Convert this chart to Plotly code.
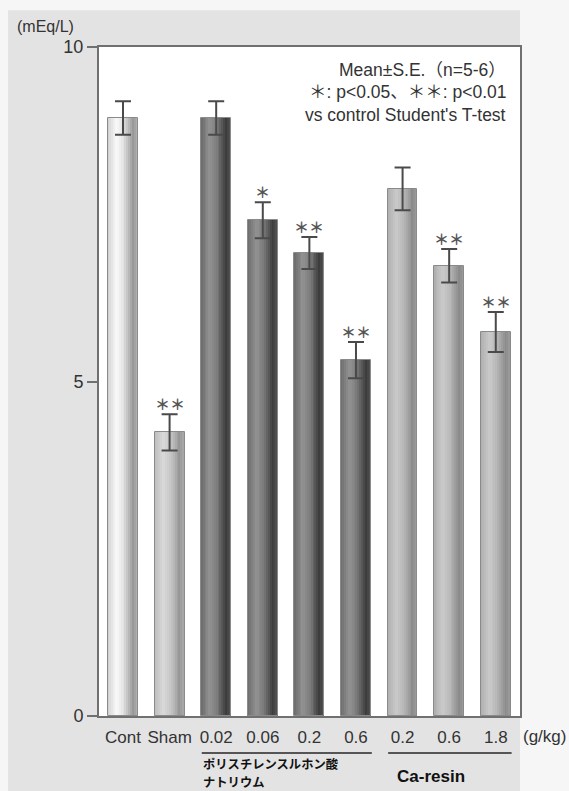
import plotly.graph_objects as go

# Serum potassium, mean ± S.E.
categories = ["Cont", "Sham", "0.02", "0.06", "0.2", "0.6", "0.2", "0.6", "1.8"]
means = [8.94, 4.24, 8.94, 7.41, 6.92, 5.32, 7.88, 6.73, 5.74]
sems = [0.25, 0.27, 0.25, 0.27, 0.24, 0.27, 0.32, 0.25, 0.30]
signif = ["", "＊＊", "", "＊", "＊＊", "＊＊", "", "＊＊", "＊＊"]
bar_group = ["cont", "sham", "ps", "ps", "ps", "ps", "ca", "ca", "ca"]
y_ticks = [0, 5, 10]

# light / dark shade for the cylinder shading of each group
shades = {
    "cont": ((250, 250, 250), (152, 152, 152)),
    "sham": ((218, 218, 218), (150, 150, 150)),
    "ps": ((146, 146, 146), (60, 60, 60)),
    "ca": ((202, 202, 202), (138, 138, 138)),
}
# lightness profile across the bar width (0 = left edge, 1 = right edge)
profile = [(0.0, 0.55), (0.3, 1.0), (0.55, 0.72), (0.85, 0.0), (1.0, 0.3)]


def lightness(t):
    for (t0, v0), (t1, v1) in zip(profile[:-1], profile[1:]):
        if t0 <= t <= t1:
            return v0 + (v1 - v0) * (t - t0) / (t1 - t0)
    return profile[-1][1]


def mix(light, dark, f):
    r, g, b = (int(round(d + (l - d) * f)) for l, d in zip(light, dark))
    return f"rgb({r},{g},{b})"


x = list(range(len(categories)))
bar_w = 0.64
n_strips = 16
strip_w = bar_w / n_strips

fig = go.Figure()

# shaded strips making up each bar
for k in range(n_strips):
    t = (k + 0.5) / n_strips
    f = lightness(t)
    colors = [mix(*shades[g], f) for g in bar_group]
    fig.add_trace(go.Bar(
        x=x, y=means, width=strip_w, offset=-bar_w / 2 + k * strip_w,
        marker=dict(color=colors, line=dict(width=0)),
        hoverinfo="skip", showlegend=False,
    ))

# outline + error bars
fig.add_trace(go.Bar(
    x=x, y=means, width=bar_w,
    marker=dict(color="rgba(0,0,0,0)", line=dict(color="#8a8a8a", width=1)),
    error_y=dict(type="data", array=sems, visible=True,
                 color="#4a4a4a", thickness=2, width=8),
    showlegend=False,
))

# significance marks above the error bars
for xi, m, s, mark in zip(x, means, sems, signif):
    if mark:
        fig.add_annotation(
            x=xi, y=m + s, xref="x", yref="y", text=f"<b>{mark}</b>", showarrow=False,
            yanchor="bottom", yshift=-2,
            font=dict(family="Noto Sans CJK JP", size=15, color="#555555"),
        )

# background panels
fig.add_shape(type="rect", xref="paper", yref="paper",
              x0=-0.216, x1=1.0, y0=-0.12, y1=1.055,
              fillcolor="#e3e3e3", line=dict(width=0), layer="below")
fig.add_shape(type="rect", xref="paper", yref="paper",
              x0=0, x1=1, y0=0, y1=1,
              fillcolor="white", line=dict(width=0), layer="below")

# group brackets under the dose labels
groups = [(2, 5), (6, 8)]
for first, last in groups:
    fig.add_shape(type="line", xref="x", yref="paper",
                  x0=first - 0.31, x1=last + 0.34, y0=-0.0553, y1=-0.0553,
                  line=dict(color="#555555", width=2))

text_font = "Liberation Sans, Arial, Noto Sans CJK JP"
ps_left = groups[0][0] - 0.31
ps_lines = ["ポリスチレンスルホン酸", "ナトリウム"]
for i, line in enumerate(ps_lines):
    fig.add_annotation(x=ps_left, y=-0.0717 - i * 0.0272, xref="x", yref="paper",
                       text=f"<b>{line}</b>", showarrow=False,
                       xanchor="left", yanchor="middle", borderpad=0,
                       font=dict(family="Noto Sans CJK JP", size=12.3, color="#111"))
fig.add_annotation(x=6.6, y=-0.091, xref="x", yref="paper",
                   text="<b>Ca-resin</b>", showarrow=False,
                   xanchor="center", yanchor="middle",
                   font=dict(family=text_font, size=17, color="#111"))

# unit labels
fig.add_annotation(x=-0.2, y=1.031, xref="paper", yref="paper",
                   text="(mEq/L)", showarrow=False, xanchor="left", yanchor="middle",
                   font=dict(family=text_font, size=16, color="#333"))
fig.add_annotation(x=1.003, y=-0.0299, xref="paper", yref="paper",
                   text="(g/kg)", showarrow=False, xanchor="left", yanchor="middle",
                   font=dict(family=text_font, size=17, color="#333"))

# statistics note
note_lines = ["Mean±S.E.（n=5-6）", "＊: p<0.05、＊＊: p<0.01", "vs control Student's T-test"]
for i, line in enumerate(note_lines):
    fig.add_annotation(x=0.9715, y=0.9656 - i * 0.0336, xref="paper", yref="paper",
                       text=line, showarrow=False, xanchor="right", yanchor="middle",
                       font=dict(family=text_font, size=17.5, color="#333"))

fig.update_layout(
    width=569, height=791,
    margin=dict(l=99, r=49, t=47, b=75),
    paper_bgcolor="#f6f6f6", plot_bgcolor="white",
    barmode="overlay", bargap=0,
    showlegend=False,
)
fig.update_xaxes(
    range=[-0.515, 8.52], tickvals=x, ticktext=categories,
    showline=True, linecolor="#707070", linewidth=2, mirror=True,
    ticks="", ticklabelstandoff=5, showgrid=False, zeroline=False,
    tickfont=dict(family=text_font, size=17, color="#333"),
)
fig.update_yaxes(
    range=[0, 10], tickvals=y_ticks, ticktext=[str(v) for v in y_ticks],
    showline=True, linecolor="#707070", linewidth=2, mirror=True,
    ticks="outside", ticklen=10, tickcolor="#707070", tickwidth=2,
    showgrid=False, zeroline=False,
    tickfont=dict(family=text_font, size=18, color="#333"),
)

fig.write_html("out.html")
